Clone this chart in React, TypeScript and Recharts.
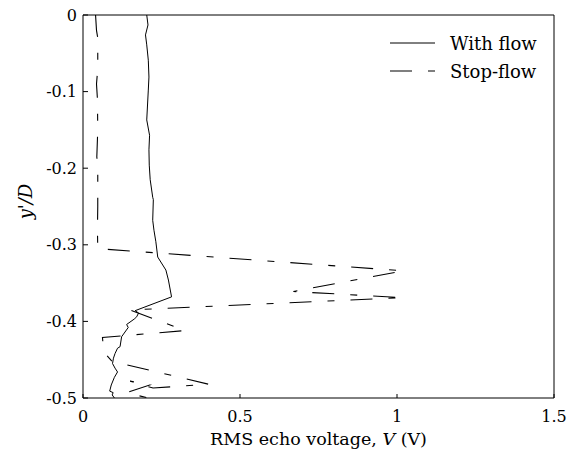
import React from 'react';
import { ScatterChart, Scatter, XAxis, YAxis } from 'recharts';

const xTicks = [0, 0.5, 1, 1.5];
const yTicks = [0, -0.1, -0.2, -0.3, -0.4, -0.5];

const withFlowV = [
  0.203, 0.207, 0.199, 0.203, 0.208, 0.21, 0.208, 0.203, 0.212, 0.21, 0.211, 0.214, 0.222, 0.224,
  0.222, 0.226, 0.232, 0.238, 0.264, 0.272, 0.282, 0.166, 0.177, 0.171, 0.163, 0.139, 0.144, 0.123,
  0.118, 0.11, 0.102, 0.097, 0.094, 0.102, 0.11, 0.1, 0.09, 0.085, 0.096, 0.093, 0.1,
];
const withFlowY = [
  0, -0.013, -0.026, -0.039, -0.059, -0.081, -0.098, -0.137, -0.157, -0.176, -0.196, -0.215, -0.238, -0.241,
  -0.268, -0.281, -0.296, -0.316, -0.333, -0.346, -0.368, -0.386, -0.389, -0.394, -0.397, -0.404, -0.408, -0.42,
  -0.433, -0.435, -0.442, -0.448, -0.455, -0.461, -0.466, -0.473, -0.483, -0.491, -0.493, -0.496, -0.5,
];

const stopFlowV = [
  0.04, 0.043, 0.047, 0.047, 0.043, 0.046, 0.047, 0.044, 0.047, 0.047, 0.046, 0.047,
  1.02, 0.67, 1.02, 0.15, 0.325, 0.062, 0.066, 0.092, 0.4, 0.223, 0.15, 0.213, 0.139, 0.207,
];
const stopFlowY = [
  0, -0.02, -0.03, -0.07, -0.09, -0.11, -0.15, -0.185, -0.2, -0.25, -0.28, -0.305,
  -0.334, -0.361, -0.369, -0.385, -0.412, -0.421, -0.44, -0.452, -0.482, -0.487, -0.478, -0.483, -0.493, -0.5,
];

const zip = (vs: number[], ys: number[]) => vs.map((v, i) => ({ v, y: ys[i] }));
const withFlow = zip(withFlowV, withFlowY);
const stopFlow = zip(stopFlowV, stopFlowY);

const FONT = "'DejaVu Serif', serif";
const FS = 16;
const LFS = 18;
const XFS = 17.5;
const tickStyle = { fontFamily: FONT, fontSize: FS, fill: '#000' };
const noShape = () => <g />;
const blankTick = () => <g />;
const DASH = '22 16 7 16';

const XLabel = (props: any) => {
  const vb = props.viewBox || {};
  return (
    <text x={vb.x + vb.width / 2} y={445} textAnchor="middle" fontFamily={FONT} fontSize={XFS} fill="#000">
      RMS echo voltage, <tspan fontStyle="italic">V</tspan> (V)
    </text>
  );
};

const YLabel = (props: any) => {
  const vb = props.viewBox || {};
  const cx = 25;
  const cy = vb.y + vb.height / 2 - 5;
  return (
    <text
      x={cx}
      y={cy}
      transform={`rotate(-90, ${cx}, ${cy})`}
      textAnchor="middle"
      dominantBaseline="central"
      fontFamily={FONT}
      fontSize={LFS}
      fill="#000"
      fontStyle="italic"
    >
      y'/D
    </text>
  );
};

export default function App() {
  return (
    <div style={{ position: 'absolute', left: 0, top: 0, width: 576, height: 454, background: '#fff' }}>
      <ScatterChart width={576} height={454} margin={{ top: 14, right: 21, bottom: 16, left: 23 }}>
        <XAxis
          type="number"
          dataKey="v"
          domain={[0, 1.5]}
          ticks={xTicks}
          interval={0}
          tickSize={-4}
          tickMargin={17}
          height={40}
          tick={tickStyle}
          axisLine={{ stroke: '#000' }}
          tickLine={{ stroke: '#000' }}
          label={{ content: XLabel }}
        />
        <XAxis
          xAxisId="top"
          orientation="top"
          type="number"
          domain={[0, 1.5]}
          ticks={xTicks}
          interval={0}
          tickSize={-4}
          height={1}
          tick={blankTick}
          axisLine={{ stroke: '#000' }}
          tickLine={{ stroke: '#000' }}
        />
        <YAxis
          type="number"
          dataKey="y"
          domain={[-0.5, 0]}
          ticks={yTicks}
          interval={0}
          tickSize={-5}
          tickMargin={11}
          width={60}
          tick={tickStyle}
          axisLine={{ stroke: '#000' }}
          tickLine={{ stroke: '#000' }}
          label={{ content: YLabel }}
        />
        <YAxis
          yAxisId="right"
          orientation="right"
          type="number"
          domain={[-0.5, 0]}
          ticks={yTicks}
          interval={0}
          tickSize={-5}
          width={1}
          tick={blankTick}
          axisLine={{ stroke: '#000' }}
          tickLine={{ stroke: '#000' }}
        />
        <Scatter
          name="With flow"
          data={withFlow}
          fill="#000"
          line={{ stroke: '#000', strokeWidth: 1 }}
          shape={noShape}
          isAnimationActive={false}
        />
        <Scatter
          name="Stop-flow"
          data={stopFlow}
          fill="#000"
          line={{ stroke: '#000', strokeWidth: 1.1, strokeDasharray: DASH }}
          shape={noShape}
          isAnimationActive={false}
        />
      </ScatterChart>
      <svg
        width={576}
        height={454}
        style={{ position: 'absolute', left: 0, top: 0, pointerEvents: 'none' }}
      >
        <line x1={390} y1={43} x2={435} y2={43} stroke="#000" strokeWidth={1} />
        <line x1={390} y1={71} x2={435} y2={71} stroke="#000" strokeWidth={1.1} strokeDasharray={DASH} />
        <text x={450} y={43} dominantBaseline="central" fontFamily={FONT} fontSize={LFS} fill="#000">
          With flow
        </text>
        <text x={450} y={71} dominantBaseline="central" fontFamily={FONT} fontSize={LFS} fill="#000">
          Stop-flow
        </text>
      </svg>
    </div>
  );
}
